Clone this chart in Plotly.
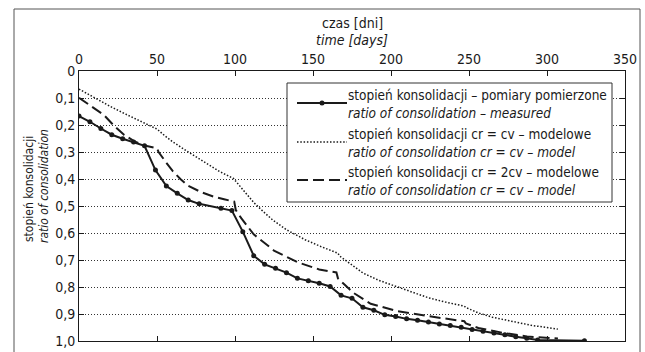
import plotly.graph_objects as go

# ---------------- data ----------------
days_measured = [0, 7, 14, 21, 28, 35, 42, 49, 56, 63, 70, 77, 91, 98, 105, 112, 119, 126,
                 133, 140, 147, 154, 161, 168, 175, 182, 189, 196, 203, 210, 217, 224, 231,
                 238, 245, 252, 259, 266, 273, 280, 287, 294, 324]
ratio_measured = [0.167, 0.188, 0.213, 0.236, 0.251, 0.263, 0.277, 0.367, 0.426, 0.453, 0.478,
                  0.492, 0.508, 0.517, 0.595, 0.684, 0.716, 0.731, 0.747, 0.768, 0.777, 0.786,
                  0.798, 0.831, 0.842, 0.875, 0.886, 0.903, 0.909, 0.918, 0.923, 0.930, 0.937,
                  0.943, 0.949, 0.957, 0.964, 0.970, 0.977, 0.984, 0.990, 0.996, 0.999]

days_cv = [0, 10, 20, 30, 40, 49, 50, 55, 60, 70, 80, 90, 99, 100, 105, 112, 118, 124, 133,
           145, 155, 166, 167, 175, 182, 192, 203, 214, 224, 235, 247, 248, 256, 265, 277,
           290, 307]
ratio_cv = [0.067, 0.100, 0.131, 0.160, 0.187, 0.211, 0.215, 0.240, 0.262, 0.300, 0.336,
            0.372, 0.398, 0.405, 0.440, 0.487, 0.520, 0.551, 0.588, 0.625, 0.650, 0.675,
            0.685, 0.720, 0.748, 0.775, 0.798, 0.820, 0.840, 0.856, 0.871, 0.876, 0.896,
            0.912, 0.927, 0.942, 0.956]

days_2cv = [0, 8, 16, 22, 29, 36, 42, 50, 51, 56, 60, 65, 70, 78, 86, 93, 99.5, 100.5, 104,
            112, 125, 140, 154, 165, 166, 170, 176, 187, 203, 224, 240, 247, 248, 256, 272,
            287, 307]
ratio_2cv = [0.099, 0.130, 0.163, 0.200, 0.237, 0.262, 0.276, 0.286, 0.300, 0.340, 0.370,
             0.400, 0.425, 0.448, 0.465, 0.475, 0.484, 0.515, 0.545, 0.605, 0.665, 0.708,
             0.735, 0.746, 0.768, 0.790, 0.822, 0.862, 0.888, 0.908, 0.921, 0.927, 0.935,
             0.952, 0.970, 0.983, 0.991]

x_ticks = [0, 50, 100, 150, 200, 250, 300, 350]
y_ticks = [0, 0.1, 0.2, 0.3, 0.4, 0.5, 0.6, 0.7, 0.8, 0.9, 1.0]
y_ticktext = ["0", "0,1", "0,2", "0,3", "0,4", "0,5", "0,6", "0,7", "0,8", "0,9", "1,0"]

legend_pl = ["stopień konsolidacji – pomiary pomierzone",
             "stopień konsolidacji cr = cv – modelowe",
             "stopień konsolidacji cr = 2cv – modelowe"]
legend_en = ["ratio of consolidation – measured",
             "ratio of consolidation cr = cv – model",
             "ratio of consolidation cr = cv – model"]

x_title = ["czas [dni]", "time [days]"]
y_title = ["stopień konsolidacji", "ratio of consolidation"]

# ---------------- layout helpers ----------------
W, H = 645, 352
L, R, T, B = 79, 625, 71, 341
FONT = "DejaVu Sans Condensed, Liberation Sans Narrow, Arial Narrow, sans-serif"
INK = "#1a1a1a"


def px(x):
    return (x - L) / (R - L)


def py(y):
    return (B - y) / (B - T)


fig = go.Figure()
fig.add_trace(go.Scatter(x=days_measured, y=ratio_measured, mode="lines+markers",
                         line=dict(color=INK, width=2), marker=dict(size=5, color=INK),
                         name=legend_pl[0], showlegend=False))
fig.add_trace(go.Scatter(x=days_cv, y=ratio_cv, mode="lines",
                         line=dict(color=INK, width=1.5, dash="1.5px,1.8px"),
                         name=legend_pl[1], showlegend=False))
fig.add_trace(go.Scatter(x=days_2cv, y=ratio_2cv, mode="lines",
                         line=dict(color=INK, width=2, dash="11px,5px"),
                         name=legend_pl[2], showlegend=False))

shapes = []
# outer frame
shapes.append(dict(type="rect", xref="paper", yref="paper", x0=px(14), x1=px(640),
                   y0=py(400), y1=py(9), line=dict(color="#555", width=1), layer="below"))
# legend box
shapes.append(dict(type="rect", xref="paper", yref="paper", x0=px(287), x1=px(612),
                   y0=py(202), y1=py(83), fillcolor="white",
                   line=dict(color="#333", width=1), layer="above"))
centers = [103, 142, 180]
dashes = ["solid", "1.5px,1.8px", "11px,5px"]
widths = [2, 1.5, 2]
for cy, d, w in zip(centers, dashes, widths):
    shapes.append(dict(type="line", xref="paper", yref="paper", x0=px(297), x1=px(347),
                       y0=py(cy), y1=py(cy), line=dict(color=INK, width=w, dash=d),
                       layer="above"))
shapes.append(dict(type="circle", xref="paper", yref="paper", x0=px(319.5), x1=px(324.5),
                   y0=py(centers[0] + 2.5), y1=py(centers[0] - 2.5), fillcolor=INK,
                   line=dict(color=INK, width=0), layer="above"))

annotations = []
for cy, pl, en in zip(centers, legend_pl, legend_en):
    annotations.append(dict(xref="paper", yref="paper", x=px(346), y=py(cy + 1),
                            text=pl + "<br><i>" + en + "</i>", showarrow=False,
                            xanchor="left", yanchor="middle", align="left",
                            font=dict(family=FONT, size=13.5, color=INK)))
annotations.append(dict(xref="paper", yref="paper", x=px(352), y=py(23), text=x_title[0],
                        showarrow=False, xanchor="center", yanchor="middle",
                        font=dict(family=FONT, size=14, color=INK)))
annotations.append(dict(xref="paper", yref="paper", x=px(352), y=py(40),
                        text="<i>" + x_title[1] + "</i>", showarrow=False, xanchor="center",
                        yanchor="middle", font=dict(family=FONT, size=14, color=INK)))
annotations.append(dict(xref="paper", yref="paper", x=px(29), y=py(189), text=y_title[0],
                        showarrow=False, xanchor="center", yanchor="middle", textangle=-90,
                        font=dict(family=FONT, size=12, color=INK)))
annotations.append(dict(xref="paper", yref="paper", x=px(44), y=py(186),
                        text="<i>" + y_title[1] + "</i>", showarrow=False, xanchor="center",
                        yanchor="middle", textangle=-90,
                        font=dict(family=FONT, size=12, color=INK)))

fig.update_layout(
    template="none",
    width=W, height=H,
    margin=dict(l=L, r=W - R, t=T, b=H - B, pad=0),
    paper_bgcolor="white", plot_bgcolor="white",
    font=dict(family=FONT, size=14, color=INK),
    shapes=shapes, annotations=annotations, showlegend=False,
    xaxis=dict(range=[0, 350], side="top", tickvals=x_ticks, ticks="inside", ticklen=5,
               tickcolor=INK, showline=True, linecolor=INK, linewidth=1, mirror="ticks",
               showgrid=False, zeroline=False, automargin=False,
               tickfont=dict(family=FONT, size=14)),
    yaxis=dict(range=[1.0, 0], tickvals=y_ticks, ticktext=y_ticktext, ticks="inside",
               ticklen=5, tickcolor=INK, showline=True, linecolor=INK, linewidth=1,
               mirror="ticks", showgrid=True, gridcolor="#333", gridwidth=1,
               griddash="1px,2px", zeroline=False, automargin=False,
               tickfont=dict(family=FONT, size=14)),
)

fig.write_html("out.html", config={"displayModeBar": False},
               post_script="document.body.style.margin='0';")
